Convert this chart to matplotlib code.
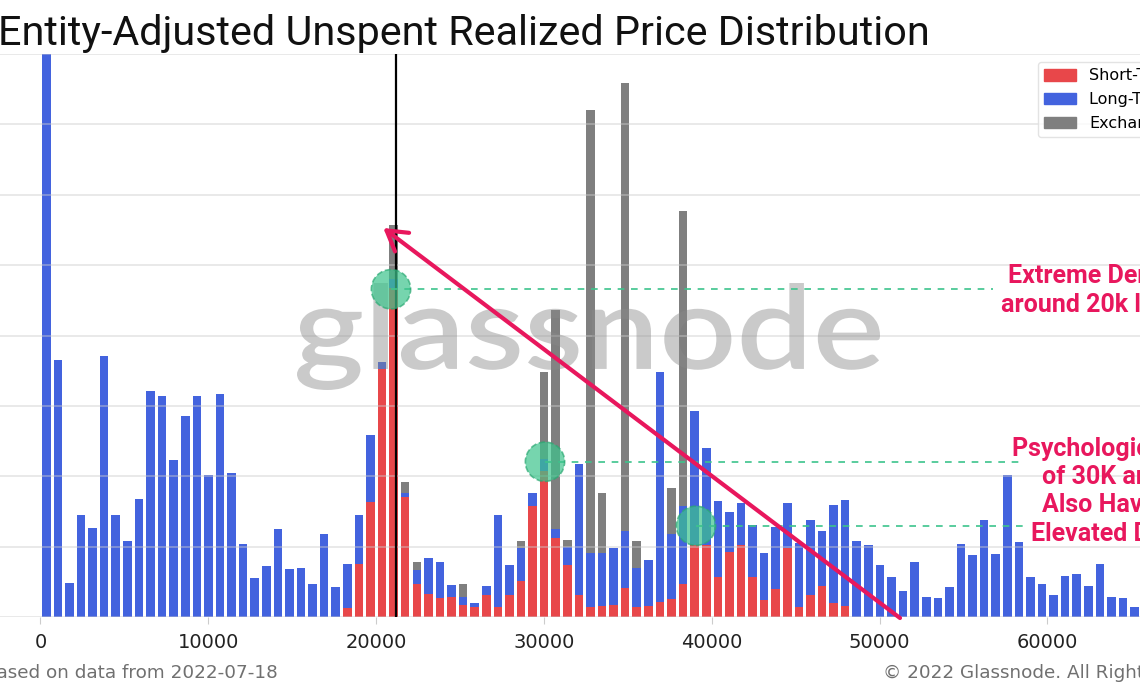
import numpy as np
import matplotlib
matplotlib.use('Agg')
import matplotlib.pyplot as plt
from matplotlib.patches import Patch, PathPatch
from matplotlib.textpath import TextPath
from matplotlib.font_manager import FontProperties
from matplotlib.transforms import Affine2D

# URPD bins (bin width ~690 USD) (grid units)
bin_width = 690
sth = [0]*26 + [0.13, 0.76, 1.64, 3.53, 4.68, 1.71, 0.48, 0.33, 0.28, 0.29,
                0.17, 0.14, 0.31, 0.15, 0.31, 0.51, 1.58, 2.08, 1.13, 0.74,
                0.31, 0.15, 0.16, 0.18, 0.42, 0.14, 0.16, 0.22, 0.26, 0.47,
                1.02, 1.03, 0.57, 0.93, 1.03, 0.57, 0.25, 0.40, 0.98, 0.15,
                0.31, 0.44, 0.21, 0.16] + [0]*26
# top of the blue (long-term) segment
lth_top = [8.6, 3.65, 0.49, 1.45, 1.27, 3.71, 1.45, 1.08, 1.68, 3.22,
           3.15, 2.23, 2.86, 3.15, 2.02, 3.17, 2.05, 1.04, 0.56, 0.73,
           1.26, 0.68, 0.70, 0.47, 1.19, 0.43,
           0.76, 1.46, 2.59, 3.63, 4.81, 1.76, 0.67, 0.84, 0.79, 0.46,
           0.29, 0.20, 0.44, 1.46, 0.75, 0.99, 1.77, 2.25, 1.25, 1.00,
           2.18, 0.92, 0.92, 0.98, 1.23, 0.70, 0.81, 3.48, 1.18, 1.58,
           2.93, 2.41, 1.65, 1.50, 1.63, 1.31, 0.91, 1.28, 1.63, 1.06,
           1.38, 1.23, 1.59, 1.67,
           1.09, 1.03, 0.74, 0.57, 0.37, 0.78, 0.29, 0.28, 0.43, 1.04,
           0.89, 1.38, 0.90, 2.02, 1.07, 0.57, 0.47, 0.32, 0.59, 0.61,
           0.45, 0.76, 0.29, 0.28, 0.14, 0.06]
# top of the grey (exchange) segment, 0 where none
exch_top = {30: 5.57, 31: 1.92, 32: 0.78, 36: 0.48, 41: 1.09, 43: 3.49,
            44: 4.36, 45: 1.10, 47: 7.21, 48: 1.77, 50: 7.59, 51: 1.08,
            54: 1.83, 55: 5.77}

sth = np.array(sth)
lth = np.array(lth_top) - sth
exch = np.zeros(len(sth))
for k, v in exch_top.items():
    exch[k] = v - lth_top[k]
bins = np.arange(len(sth)) * bin_width

xticks = [0, 10000, 20000, 30000, 40000, 50000, 60000]
price_now = 21170
circles_x = [20888, 30066, 39064]
circles_y = [4.66, 2.21, 1.30]
dash_end = [0.871, 0.899, 0.899]   # axes fraction where the dashed guides stop

red = '#e8474a'
blue = '#4363de'
grey = '#7f7f7f'
pink = '#e8175d'
green = '#3cc48c'

fig = plt.figure(figsize=(11.4, 6.94), dpi=100)
ax = fig.add_axes([0, (694-617.3)/694, 1, 563.2/694])

# bars fill ~3/4 of each bin, leaving a white gap
bx = bins + 0.13*bin_width
bw = 0.74*bin_width
ax.bar(bx, sth, width=bw, align='edge', color=red, lw=0)
ax.bar(bx, lth, bottom=sth, width=bw, align='edge', color=blue, lw=0)
ax.bar(bx, exch, bottom=sth + lth, width=bw, align='edge', color=grey, lw=0)

ax.set_xlim(-40.5/167.8*10000, (1140-40.5)/167.8*10000)
ax.set_ylim(0, 8)
ax.set_yticks(np.arange(0, 9))
ax.set_yticklabels([])
ax.tick_params(axis='y', length=0)
ax.set_xticks(xticks)
ax.set_xticklabels([str(t) for t in xticks], fontsize=14, color='#222222')
ax.tick_params(axis='x', length=5, color='#cccccc', pad=6)
for s in ax.spines.values():
    s.set_visible(False)
ax.yaxis.grid(True, color='#cccccc', alpha=0.5, lw=1.2)
ax.set_axisbelow(False)

# watermark
tp = TextPath((0, 0), 'glassnode', size=1, prop=FontProperties(family='Lato', weight='semibold'))
ext = tp.get_extents()
sx = (880-297)/ext.width
sy = (390-283)/ext.height
tr = Affine2D().translate(-ext.x0, -ext.y0).scale(sx, sy).translate(297, 694-390)
ax.add_patch(PathPatch(tp, transform=tr, color='#8a8a8a', alpha=0.45, lw=0, zorder=3))

ax.axvline(price_now, color='black', lw=1.6, zorder=4)

# dashed guides + circles
for cx, cy, xe in zip(circles_x, circles_y, dash_end):
    x0 = ax.transAxes.inverted().transform(ax.transData.transform((cx, cy)))[0]
    ax.plot([x0, xe], [cy, cy], transform=ax.get_yaxis_transform(), ls=(0, (4, 4)),
            color=green, lw=1.2, zorder=5)
    ax.scatter([cx], [cy], s=800, color=green, alpha=0.7, edgecolor='#2aa872',
               linestyle='--', lw=1.2, zorder=6)

ax.annotate('', xy=(20429, 5.53), xytext=(51222, -0.01),
            arrowprops=dict(arrowstyle='->,head_length=0.5,head_width=0.3',
                            color=pink, lw=3, mutation_scale=28, shrinkA=0, shrinkB=0),
            zorder=7, annotation_clip=False)

# notes on the right
note1 = ['Extreme Density', 'around 20k levels']
note1_x = [1008, 1001]
note1_y = [283.5, 312]
note2 = ['Psychological Levels', 'of 30K and 40K', 'Also Have', 'Elevated Density']
note2_x = [1012, 1042, 1042, 1031]
note2_y = [456, 484, 512.3, 540.7]
for lines, xs, ys in [(note1, note1_x, note1_y), (note2, note2_x, note2_y)]:
    for t, x, y in zip(lines, xs, ys):
        fig.text(x/1140, 1-y/694, t, color=pink, fontsize=18, fontweight='bold',
                 family='Roboto', va='baseline', ha='left')

handles = [Patch(color=red), Patch(color=blue), Patch(color=grey)]
labels = ['Short-Term Holders', 'Long-Term Holders', 'Exchanges']
fig.legend(handles, labels, loc='upper left', bbox_to_anchor=(1038/1140, 1-62/694),
           fontsize=11.5, frameon=True, edgecolor='#dddddd', fancybox=True,
           handlelength=2.0, handleheight=0.75, handletextpad=0.8, labelspacing=0.55,
           borderpad=0.4, borderaxespad=0)

fig.text(930/1140, 1-45/694, 'Entity-Adjusted Unspent Realized Price Distribution',
         fontsize=29.8, family='Roboto', ha='right', va='baseline', color='#111111')
fig.text(278/1140, 1-678/694, 'Based on data from 2022-07-18', fontsize=13.2,
         color='#707070', ha='right', va='baseline')
fig.text(883/1140, 1-678/694, '\u00a9 2022 Glassnode. All Rights Reserved.', fontsize=13.2,
         color='#707070', ha='left', va='baseline')

fig.savefig('out.png', dpi=100)
